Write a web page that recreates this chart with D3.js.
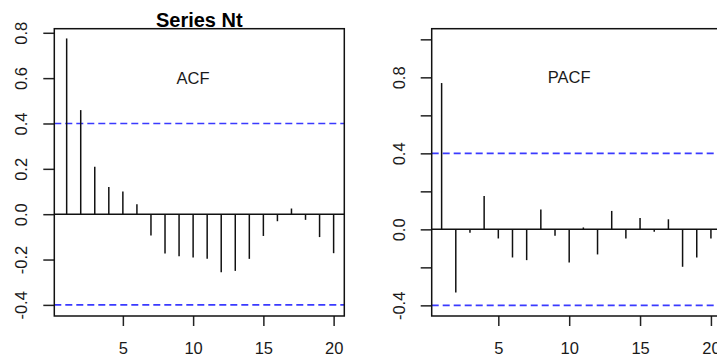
<!DOCTYPE html>
<html>
<head>
<meta charset="utf-8">
<script src="https://cdn.jsdelivr.net/npm/d3@7"></script>
<style>
    html, body { margin: 0; padding: 0; background: #fff; }
    svg { display: block; font-family: "Liberation Sans", Arial, sans-serif; }
</style>
</head>
<body>
<div id="chart"></div>
<script>
// Lags shown on both correlograms
const lags = [1, 2, 3, 4, 5, 6, 7, 8, 9, 10, 11, 12, 13, 14, 15, 16, 17, 18, 19, 20];

// Autocorrelations
const acfValues = [0.775, 0.459, 0.209, 0.12, 0.10, 0.044, -0.094, -0.173, -0.185, -0.191,
    -0.196, -0.256, -0.25, -0.197, -0.096, -0.031, 0.025, -0.025, -0.101, -0.172];

// Partial autocorrelations
const pacfValues = [0.77, -0.332, -0.018, 0.176, -0.048, -0.148, -0.162, 0.104, -0.034, -0.174,
    0.01, -0.132, 0.097, -0.048, 0.06, -0.012, 0.053, -0.197, -0.148, -0.048];

// Confidence bound (blue dashed lines)
const ciBound = 0.4;

const xTicks = [5, 10, 15, 20];
const acfYTicks = [-0.4, -0.2, 0.0, 0.2, 0.4, 0.6, 0.8];
const acfYLabels = ['-0.4', '-0.2', '0.0', '0.2', '0.4', '0.6', '0.8'];
const pacfYTicks = [-0.4, -0.2, 0.0, 0.2, 0.4, 0.6, 0.8, 1.0];
const pacfYLabels = ['-0.4', '', '0.0', '', '0.4', '', '0.8', ''];

const width = 717;
const height = 356;

const svg = d3.select('#chart')
    .append('svg')
    .attr('width', width)
    .attr('height', height);

svg.append('rect').attr('width', width).attr('height', height).attr('fill', '#fff');

function drawPanel(opts) {
    const { left, top, w, h, xDomain, yDomain, values, yTicks, yLabels, label, labelAt } = opts;

    const g = svg.append('g').attr('transform', `translate(${left},${top})`);

    const x = d3.scaleLinear().domain(xDomain).range([0, w]);
    const y = d3.scaleLinear().domain(yDomain).range([h, 0]);

    // Zero line
    g.append('line')
        .attr('x1', 0).attr('x2', w)
        .attr('y1', y(0)).attr('y2', y(0))
        .attr('stroke', '#111')
        .attr('stroke-width', 1.5);

    // Confidence bounds
    g.selectAll('.ci')
        .data([ciBound, -ciBound])
        .enter().append('line')
        .attr('class', 'ci')
        .attr('x1', 0).attr('x2', w)
        .attr('y1', d => y(d)).attr('y2', d => y(d))
        .attr('stroke', '#3a3aff')
        .attr('stroke-width', 1.6)
        .attr('stroke-dasharray', '7,4');

    // Stems
    g.selectAll('.stem')
        .data(lags.map((lag, i) => ({ lag, value: values[i] })))
        .enter().append('line')
        .attr('class', 'stem')
        .attr('x1', d => x(d.lag)).attr('x2', d => x(d.lag))
        .attr('y1', y(0)).attr('y2', d => y(d.value))
        .attr('stroke', '#111')
        .attr('stroke-width', 1.5);

    // Axes
    const xAxisG = g.append('g')
        .attr('transform', `translate(0,${h})`)
        .call(d3.axisBottom(x).tickValues(xTicks).tickSize(10).tickSizeOuter(0));

    xAxisG.selectAll('text')
        .attr('y', 38)
        .attr('dy', null);

    const yAxisG = g.append('g')
        .call(d3.axisLeft(y).tickValues(yTicks).tickSize(11).tickSizeOuter(0)
            .tickFormat((d, i) => yLabels[i]));

    yAxisG.selectAll('text')
        .attr('x', null)
        .attr('dy', null)
        .attr('text-anchor', 'middle')
        .attr('transform', 'translate(-27,0) rotate(-90)');

    g.selectAll('.domain').remove();
    g.selectAll('.tick line').attr('stroke', '#222').attr('stroke-width', 1.5);
    g.selectAll('.tick text')
        .attr('fill', '#1a1a1a')
        .style('font-size', '16.5px')
        .style('font-family', '"Liberation Sans", Arial, sans-serif');

    // Box
    g.append('rect')
        .attr('width', w).attr('height', h)
        .attr('fill', 'none')
        .attr('stroke', '#111')
        .attr('stroke-width', 1.5);

    // Panel label inside the plot
    g.append('text')
        .attr('x', x(labelAt[0]))
        .attr('y', y(labelAt[1]))
        .attr('dy', '0.36em')
        .attr('text-anchor', 'middle')
        .attr('fill', '#1a1a1a')
        .style('font-size', '16.5px')
        .text(label);

    return { g, x, y };
}

const acfPanel = drawPanel({
    left: 54.3, top: 28.7, w: 290, h: 287.3,
    xDomain: [0.12, 20.76], yDomain: [-0.449, 0.818],
    values: acfValues, yTicks: acfYTicks, yLabels: acfYLabels,
    label: 'ACF', labelAt: [10, 0.6]
});

drawPanel({
    left: 431.7, top: 28.7, w: 290, h: 287.3,
    xDomain: [0.3, 20.76], yDomain: [-0.456, 1.056],
    values: pacfValues, yTicks: pacfYTicks, yLabels: pacfYLabels,
    label: 'PACF', labelAt: [10, 0.8]
});

// Title over the left panel
acfPanel.g.append('text')
    .attr('x', 145)
    .attr('y', -2.2)
    .attr('text-anchor', 'middle')
    .attr('fill', '#000')
    .style('font-size', '20px')
    .style('font-weight', 'bold')
    .text('Series Nt');
</script>
</body>
</html>
